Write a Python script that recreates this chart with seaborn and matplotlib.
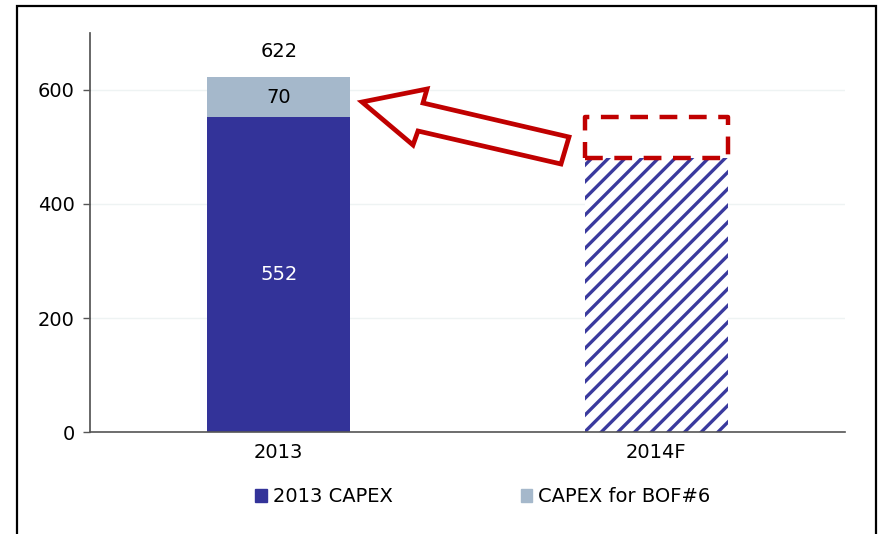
import matplotlib
matplotlib.use("Agg")
import matplotlib.pyplot as plt
import seaborn as sns
from matplotlib.patches import Patch, Rectangle, Polygon

# data
years = ["2013", "2014F"]
capex_base = [552, 480]
capex_bof6 = [70, 0]
totals = [b + c for b, c in zip(capex_base, capex_bof6)]
target_2014 = 552

dark_blue = "#333399"
light_blue = "#A5B8CB"
red = "#C00000"

sns.set_theme(style="white")
plt.rcParams["font.family"] = ["DejaVu Sans"]
plt.rcParams["hatch.linewidth"] = 2.4

fig = plt.figure(figsize=(8.81, 5.34), dpi=100)
ax = fig.add_axes([90 / 881, 1 - 432 / 534, (845 - 90) / 881, (432 - 33) / 534])

# totals first (light), then base (dark) on top
sns.barplot(x=years, y=totals, color=light_blue, width=0.38, saturation=1, linewidth=0, ax=ax)
sns.barplot(x=years, y=capex_base, color=dark_blue, width=0.38, saturation=1, linewidth=0, ax=ax)

# forecast bar: hatched
fc_bar = ax.patches[3]
fc_bar.set_facecolor("white")
fc_bar.set_edgecolor("#3a3a9e")
fc_bar.set_hatch("//")
fc_bar.set_linewidth(0)

ax.set_ylim(0, 700)
ax.set_xlim(-0.5, 1.5)
ax.set_yticks([0, 200, 400, 600])
ax.tick_params(axis="y", labelsize=14, length=5, width=1, color="#555555", left=True, pad=6,
               labelcolor="black")
ax.tick_params(axis="x", labelsize=14, length=0, pad=8, labelcolor="black")
for s in ["top", "right"]:
    ax.spines[s].set_visible(False)
ax.spines["left"].set_color("#555555")
ax.spines["bottom"].set_color("#555555")
ax.spines["bottom"].set_linewidth(1.2)
ax.yaxis.grid(True, color="#eef3f3", linewidth=1)
ax.set_axisbelow(True)
ax.set_xlabel("")
ax.set_ylabel("")

# labels
ax.text(0, totals[0] + 45, str(totals[0]), ha="center", va="center", fontsize=14, color="black")
ax.text(0, capex_base[0] + capex_bof6[0] / 2, str(capex_bof6[0]), ha="center", va="center", fontsize=14, color="black")
ax.text(0, capex_base[0] / 2, str(capex_base[0]), ha="center", va="center", fontsize=14, color="white")

# dashed target box on 2014F
ax.add_patch(Rectangle((1 - 0.19, capex_base[1]), 0.38, target_2014 - capex_base[1],
                       fill=False, edgecolor=red, linewidth=3.2, linestyle=(0, (4, 2.6)),
                       joinstyle="round", capstyle="butt", zorder=5))

# outlined arrow (pixel coords -> figure fraction)
arrow_px = [(362, 102), (427, 89), (423, 103), (569, 137), (561, 164), (418, 131), (413, 145)]
arrow_pts = [(x / 881, 1 - y / 534) for x, y in arrow_px]
fig.patches.append(Polygon(arrow_pts, closed=True, facecolor="white", edgecolor=red,
                           linewidth=3.4, joinstyle="miter", transform=fig.transFigure, figure=fig))

# legend
handles = [Patch(color=dark_blue, label="2013 CAPEX"), Patch(color=light_blue, label="CAPEX for BOF#6")]
fig.legend(handles=handles, loc="center", bbox_to_anchor=(0.548, 1 - 497 / 534), ncol=2,
           frameon=False, fontsize=14, handlelength=0.6, handleheight=0.6, handletextpad=0.3,
           columnspacing=6.6, labelcolor="black")

# outer frame
fig.patches.append(Rectangle((17 / 881, -0.05), (876 - 17) / 881, 1.05 - 6 / 534, fill=False,
                             edgecolor="black", linewidth=1.6, transform=fig.transFigure, figure=fig))

fig.savefig("out.png", dpi=100)
